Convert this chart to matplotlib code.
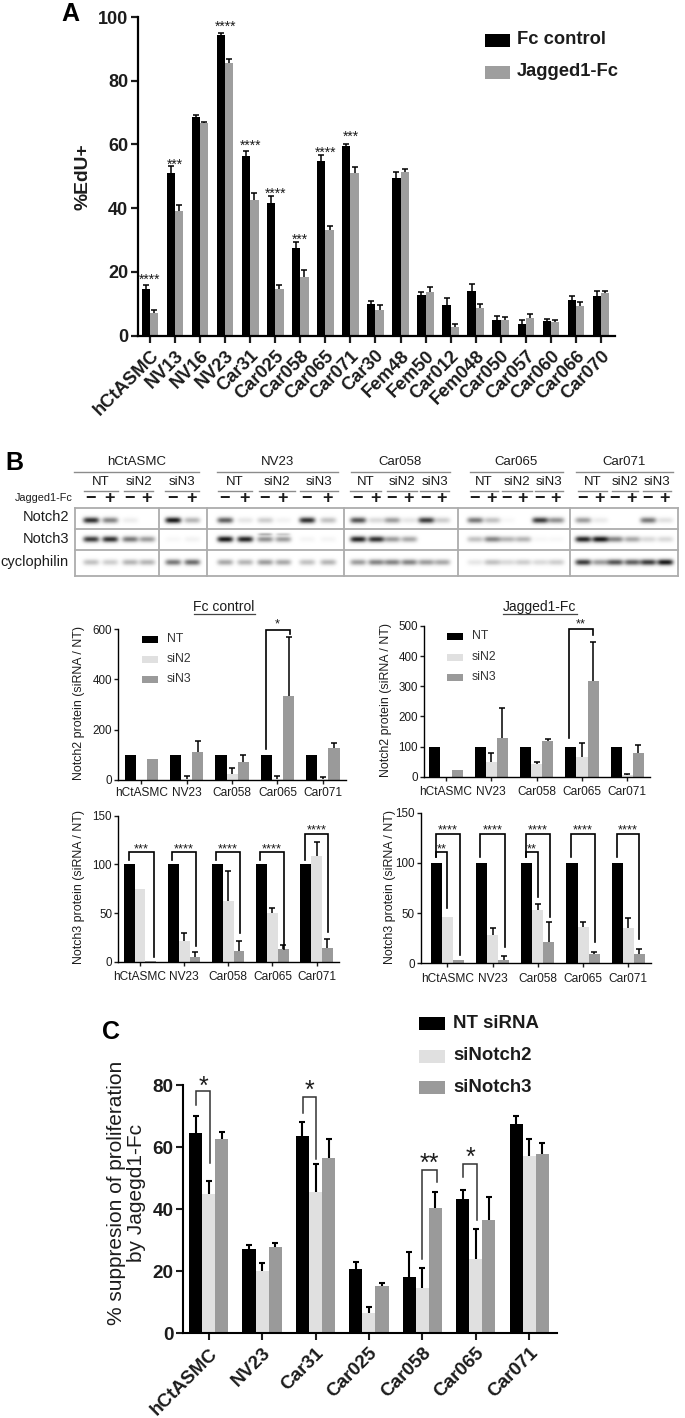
"""
	plot.py - proliferation bars, western blots and siRNA panels
"""

import numpy as np
import matplotlib
matplotlib.use("Agg")
import matplotlib.pyplot as plt

plt.rcParams["font.family"] = ["Liberation Sans", "DejaVu Sans"]

W, H = 685, 1418
DARK = "#1c1c1c"

# Panel A
cells_a = ["hCtASMC", "NV13", "NV16", "NV23", "Car31", "Car025", "Car058", "Car065", "Car071", "Car30",
           "Fem48", "Fem50", "Car012", "Fem048", "Car050", "Car057", "Car060", "Car066", "Car070"]
fc_control = [14.7, 51, 68.5, 94.5, 56.5, 41.7, 27.5, 54.8, 59.5, 10, 49.5, 12.7, 9.5, 14, 5, 3.5, 4.5, 11.2, 12.5]
fc_control_top = [15.8, 53.3, 69.3, 95, 58, 43.8, 29.3, 56.7, 60.2, 10.8, 51.2, 13.7, 11.7, 16.2, 6.2, 5, 5.3, 12.5, 13.9]
jagged = [7, 39, 66.7, 85.5, 42.5, 14.5, 18.5, 33.2, 51, 8, 51.2, 13.6, 2.7, 8.5, 4.9, 5.5, 4.2, 9.2, 13.3]
jagged_top = [8, 41, 67, 86.8, 44.7, 15.8, 20.5, 34.5, 52.8, 9.5, 52.2, 15.2, 3.5, 10, 5.8, 6.7, 4.8, 10.5, 13.9]
stars_a = [(0, "****", 18.4), (1, "***", 54.4), (3, "****", 97.8), (4, "****", 60.4), (5, "****", 45.3),
           (6, "***", 31), (7, "****", 58.2), (8, "***", 63.2)]

# Panel B bars
cells_b = ["hCtASMC", "NV23", "Car058", "Car065", "Car071"]
nt_b = [100, 100, 100, 100, 100]
fc_n2_sin2 = [0, 5, 25, 5, 4]
fc_n2_sin2_top = [0, 17, 47, 15, 10]
fc_n2_sin3 = [85, 112, 72, 335, 128]
fc_n2_sin3_top = [85, 155, 100, 570, 148]
fc_n3_sin2 = [74.5, 21, 62, 50, 109]
fc_n3_sin2_top = [74.5, 29, 93, 55, 123]
fc_n3_sin3 = [0.5, 4.5, 11, 13.5, 14.5]
fc_n3_sin3_top = [0.5, 9.5, 21.5, 17, 23]
jag_n2_sin2 = [0, 50, 42, 65, 5]
jag_n2_sin2_top = [0, 78, 50, 113, 10]
jag_n2_sin3 = [22, 128, 118, 318, 77]
jag_n2_sin3_top = [22, 227, 125, 446, 104]
jag_n3_sin2 = [46, 28, 53, 36, 35]
jag_n3_sin2_top = [46, 35, 59, 41, 45]
jag_n3_sin3 = [3, 3.5, 21, 9, 9]
jag_n3_sin3_top = [3, 7, 41, 11, 14]

# Panel C
cells_c = ["hCtASMC", "NV23", "Car31", "Car025", "Car058", "Car065", "Car071"]
nt_c = [64.5, 27, 63.5, 20.5, 18, 43.3, 67.5]
nt_c_top = [70, 28.5, 68, 23, 26, 46, 70]
sin2_c = [45, 20, 45.5, 6.5, 14.5, 24, 57]
sin2_c_top = [49, 22.5, 54.5, 8.5, 21, 33.5, 62.5]
sin3_c = [62.7, 27.8, 56.5, 15.3, 40.3, 36.3, 57.8]
sin3_c_top = [65, 29, 62.5, 16, 45.5, 44, 61.2]

# Blot band strength per lane, 0 = nothing, 1 = black
notch2_bands = [.85, .5, .07, 0, .95, .3, .65, .1, .2, .05, .85, .25, .7, .15, .4, .1, .8, .2,
                .55, .25, .03, 0, .8, .45, .4, .08, 0, 0, .55, .12]
notch3_bands = [.8, .85, .55, .4, .03, .05, .95, .9, .45, .4, .04, .04, .9, .85, .4, .35, 0, 0,
                .25, .5, .3, .3, .03, .03, .9, .95, .5, .35, .15, .15]
cyclo_bands = [.25, .2, .3, .3, .55, .6, .35, .3, .4, .35, .25, .3, .4, .5, .5, .5, .4, .35,
               .1, .25, .15, .2, .15, .2, .8, .4, .7, .65, .8, .95]
lane_x = [91, 110, 130, 147, 173, 192, 225, 245, 265, 283, 307, 328, 358, 376, 392, 409, 426, 442,
          475, 492, 507, 523, 540, 556, 583, 600, 615, 632, 648, 665]


def makeAxes(fig, left, top, right, bottom):
	ax = fig.add_axes([left/W, 1-bottom/H, (right-left)/W, (bottom-top)/H])
	ax.patch.set_visible(False)
	return ax


def styleAxes(ax, lw, ticklen, size, bold):
	ax.spines["top"].set_visible(False)
	ax.spines["right"].set_visible(False)
	ax.spines["left"].set_linewidth(lw)
	ax.spines["bottom"].set_linewidth(lw)
	ax.tick_params(width=lw, length=ticklen, labelsize=size, colors=DARK)
	if bold:
		for t in ax.get_xticklabels() + ax.get_yticklabels():
			t.set_fontweight("bold")


def bars(ax, x, values, tops, width, color, lw, cap):
	ax.bar(x, values, width, color=color, linewidth=0)
	values = np.array(values, dtype=float)
	tops = np.array(tops, dtype=float)
	keep = tops > values
	ax.vlines(x[keep], values[keep], tops[keep], color="black", lw=lw, zorder=3)
	ax.plot(x[keep], tops[keep], "_", color="black", ms=cap, mew=lw, zorder=3)


def bracket(ax, x, l, r, left_y, top_y, right_y, text, text_y, size, lw=1.2, color="black"):
	ax.plot([x+l, x+l, x+r, x+r], [left_y, top_y, top_y, right_y], color=color, lw=lw, clip_on=False,
		solid_joinstyle="miter", zorder=5)
	ax.annotate(text, (x+(l+r)/2, text_y), xytext=(0, -1), textcoords="offset points", ha="center", va="center",
		fontsize=size, color=DARK, annotation_clip=False)


def smallPanel(fig, box, xlim, ylim, yticks, sin2, sin2_top, sin3, sin3_top, ylabel, label_x, xpad=4):
	ax = makeAxes(fig, *box)
	x = np.arange(5)
	w = 0.245
	bars(ax, x-w, nt_b, nt_b, w, "black", 1.1, 4.5)
	bars(ax, x, sin2, sin2_top, w, "#e0e0e0", 1.1, 4.5)
	bars(ax, x+w, sin3, sin3_top, w, "#9a9a9a", 1.1, 4.5)
	ax.set_xlim(*xlim)
	ax.set_ylim(*ylim)
	ax.set_yticks(yticks)
	ax.set_xticks(x)
	ax.set_xticklabels(cells_b)
	styleAxes(ax, 1.0, 2.8, 8.6, False)
	ax.tick_params(axis="x", pad=xpad)
	ax.tick_params(axis="y", pad=1.5, labelsize=8.4)
	fig.text(label_x/W, 1-(box[1]+box[3])/2/H + 0.001, ylabel, rotation=90, ha="center", va="center",
		fontsize=8.9, color=DARK)
	return ax


def panelA(fig):
	ax = makeAxes(fig, 138, 17, 615, 335.5)
	x = np.arange(len(cells_a))
	w = 0.33
	bars(ax, x-w/2, fc_control, fc_control_top, w, "black", 1.1, 4)
	bars(ax, x+w/2, jagged, jagged_top, w, "#9e9e9e", 1.1, 4)
	ax.set_xlim(-0.48, 18.56)
	ax.set_ylim(0, 100)
	ax.set_yticks(range(0, 101, 20))
	ax.set_xticks(x)
	ax.set_xticklabels(cells_a, rotation=45, ha="right", rotation_mode="anchor")
	styleAxes(ax, 1.6, 5, 13.2, True)
	ax.tick_params(axis="y", labelsize=13, pad=2)
	for group, text, y in stars_a:
		ax.annotate(text, (group, y), xytext=(0, -2), textcoords="offset points", ha="center", va="center",
			fontsize=10, color=DARK, annotation_clip=False)
	fig.text(83/W, 1-177/H, "%EdU+", rotation=90, ha="center", va="center", fontsize=13.9, fontweight="bold", color=DARK)


def drawBlots(pix):
	rows = [(notch2_bands, 508, 528, 520), (notch3_bands, 530, 549, 539), (cyclo_bands, 551, 575, 562)]
	for bands, top, bottom, centre in rows:
		yy, xx = np.mgrid[top:bottom:0.5, 75:678:0.5]
		img = np.zeros(xx.shape)
		for lx, level in zip(lane_x, bands):
			img += level*np.exp(-((xx-lx)/8.0)**4)*np.exp(-((yy-centre)/3.0)**2)
		# doublet above the siN2 lanes of NV23
		if bands is notch3_bands:
			for lx, level in [(265, .3), (283, .2)]:
				img += level*np.exp(-((xx-lx)/7.0)**4)*np.exp(-((yy-centre+5)/1.3)**2)
		pix.imshow(img, cmap="gray_r", vmin=0, vmax=1.05, extent=[75, 678, bottom, top], aspect="auto",
			interpolation="bilinear", zorder=1)
	frame = "#adadad"
	for y in [507.5, 529, 550, 575.5]:
		pix.plot([75, 678], [y, y], color=frame, lw=1.3, zorder=2)
	for x in [75, 159, 207, 344, 458, 570, 678]:
		pix.plot([x, x], [507.5, 575.5], color=frame, lw=1.3, zorder=2)
	for y, text in [(517, "Notch2"), (539, "Notch3"), (562, "cyclophilin")]:
		pix.text(69, y, text, ha="right", va="center", fontsize=10.5, color=DARK)
	pix.text(73, 498, "Jagged1-Fc", ha="right", va="center", fontsize=7.8, color=DARK)

	groups = [("hCtASMC", 74, 199), ("NV23", 217, 338), ("Car058", 351, 450), ("Car065", 470, 563), ("Car071", 576, 673)]
	for text, a, b in groups:
		pix.text((a+b)/2, 462, text, ha="center", va="center", fontsize=9.5, color=DARK)
		pix.plot([a, b], [472, 472], color="#8c8c8c", lw=1.0)
	subs = [(84, 118), (124, 153), (165, 199), (218, 252), (259, 295), (300, 338), (350, 381), (387, 417), (420, 449),
		(470, 498), (502, 532), (535, 563), (578, 607), (612, 638), (643, 671)]
	for i, (a, b) in enumerate(subs):
		pix.text((a+b)/2, 482, ["NT", "siN2", "siN3"][i % 3], ha="center", va="center", fontsize=9.5, color=DARK)
		pix.plot([a, b], [491, 491], color="#8c8c8c", lw=1.0)
	for i, lx in enumerate(lane_x):
		pix.text(lx, 498, "+" if i % 2 else "\u2212", ha="center", va="center", fontsize=13, fontweight="bold", color=DARK)


def panelB(fig):
	ax = smallPanel(fig, (118, 629, 346, 780), (-0.515, 4.51), (0, 600), [0, 200, 400, 600],
		fc_n2_sin2, fc_n2_sin2_top, fc_n2_sin3, fc_n2_sin3_top, "Notch2 protein (siRNA / NT)", 79, 2)
	bracket(ax, 3, -.26, .265, 125, 598, 580, "*", 622, 9.3)

	ax = smallPanel(fig, (118, 815.7, 339, 961.7), (-0.5, 4.51), (0, 150), [0, 50, 100, 150],
		fc_n3_sin2, fc_n3_sin2_top, fc_n3_sin3, fc_n3_sin3_top, "Notch3 protein (siRNA / NT)", 79)
	bracket(ax, 0, -.25, .31, 105, 112.7, 5, "***", 117, 9.3)
	bracket(ax, 1, -.28, .26, 105, 112.7, 16, "****", 117, 9.3)
	bracket(ax, 2, -.27, .27, 105, 112.7, 29, "****", 117, 9.3)
	bracket(ax, 3, -.27, .26, 105, 112.7, 13, "****", 117, 9.3)
	bracket(ax, 4, -.25, .25, 104, 131, 31, "****", 136, 9.3)

	ax = smallPanel(fig, (424, 626, 650, 776.7), (-0.485, 4.5), (0, 500), [0, 100, 200, 300, 400, 500],
		jag_n2_sin2, jag_n2_sin2_top, jag_n2_sin3, jag_n2_sin3_top, "Notch2 protein (siRNA / NT)", 386)
	bracket(ax, 3, -.29, .245, 127, 490, 470, "**", 510, 9.3)

	ax = smallPanel(fig, (420.7, 812.7, 650.7, 963.3), (-0.59, 4.495), (0, 150), [0, 50, 100, 150],
		jag_n3_sin2, jag_n3_sin2_top, jag_n3_sin3, jag_n3_sin3_top, "Notch3 protein (siRNA / NT)", 390)
	bracket(ax, 0, -.25, .27, 105.6, 128.9, 8, "****", 134, 9.3)
	bracket(ax, 0, -.25, 0, 105.6, 111, 55, "**", 115, 9.3)
	bracket(ax, 1, -.27, .265, 105.6, 128.9, 16.6, "****", 134, 9.3)
	bracket(ax, 2, -.26, .26, 105.6, 128.9, 46.5, "****", 134, 9.3)
	bracket(ax, 2, -.26, .01, 105.6, 111, 66.4, "**", 115, 9.3)
	bracket(ax, 3, -.27, .26, 105.6, 128.9, 21.6, "****", 134, 9.3)
	bracket(ax, 4, -.26, .24, 105.6, 128.9, 24, "****", 134, 9.3)


def panelC(fig):
	ax = makeAxes(fig, 183, 1085, 557, 1333)
	x = np.arange(len(cells_c))
	w = 0.245
	bars(ax, x-w, nt_c, nt_c_top, w, "black", 1.5, 5)
	bars(ax, x, sin2_c, sin2_c_top, w, "#e0e0e0", 1.5, 5)
	bars(ax, x+w, sin3_c, sin3_c_top, w, "#9a9a9a", 1.5, 5)
	ax.set_xlim(-0.48, 6.52)
	ax.set_ylim(0, 80)
	ax.set_yticks(range(0, 81, 20))
	ax.set_xticks(x)
	ax.set_xticklabels(cells_c, rotation=45, ha="right", rotation_mode="anchor")
	styleAxes(ax, 1.5, 5, 13.6, True)
	ax.tick_params(axis="y", pad=2)
	bracket(ax, 0, -.23, .02, 73.5, 78, 55, "*", 80, 18, 1.1, "#333333")
	bracket(ax, 2, -.23, .01, 71, 76, 56, "*", 78.5, 18, 1.1, "#333333")
	bracket(ax, 4, 0, .27, 24, 52.5, 48.8, "**", 55, 18, 1.1, "#333333")
	bracket(ax, 5, -.24, .03, 50.4, 54.4, 36.5, "*", 57, 18, 1.1, "#333333")
	fig.text(117/W, 1-1193/H, "% suppresion of proliferation", rotation=90, ha="center", va="center", fontsize=15, color=DARK)
	fig.text(137/W, 1-1193/H, "by Jagegd1-Fc", rotation=90, ha="center", va="center", fontsize=15, color=DARK)


def main():
	fig = plt.figure(figsize=(W/100, H/100), dpi=100)
	pix = fig.add_axes([0, 0, 1, 1], zorder=-1)
	pix.set_xlim(0, W)
	pix.set_ylim(H, 0)
	pix.axis("off")

	panelA(fig)
	drawBlots(pix)
	panelB(fig)
	panelC(fig)
	pix.set_xlim(0, W)
	pix.set_ylim(H, 0)

	for text, x, y in [("A", 70, 14), ("B", 14, 463), ("C", 111, 1032)]:
		pix.text(x, y, text, ha="center", va="center", fontsize=18, fontweight="bold", color="black")

	# hand placed legends, same as in the figure
	for text, color, y in [("Fc control", "black", 40), ("Jagged1-Fc", "#9e9e9e", 72)]:
		pix.fill_between([485, 510], y-6.5, y+6.5, color=color, linewidth=0)
		pix.text(517, y, text, va="center", fontsize=13.2, fontweight="bold", color=DARK)
	for text, color, y in [("NT", "black", 639), ("siN2", "#e0e0e0", 659), ("siN3", "#9a9a9a", 679)]:
		pix.fill_between([142, 158], y-3.5, y+3.5, color=color, linewidth=0)
		pix.text(167, y, text, va="center", fontsize=8.8, color="#333333")
	for text, color, y in [("NT", "black", 636), ("siN2", "#e0e0e0", 657), ("siN3", "#9a9a9a", 677)]:
		pix.fill_between([447, 463], y-3.5, y+3.5, color=color, linewidth=0)
		pix.text(472, y, text, va="center", fontsize=8.8, color="#333333")
	for text, color, y in [("NT siRNA", "black", 1023), ("siNotch2", "#e0e0e0", 1056), ("siNotch3", "#9a9a9a", 1087)]:
		pix.fill_between([419, 445], y-6.5, y+6.5, color=color, linewidth=0)
		pix.text(453, y, text, va="center", fontsize=13.4, fontweight="bold", color=DARK)

	pix.text(224, 607, "Fc control", ha="center", va="center", fontsize=10, color=DARK)
	pix.plot([194, 255], [613.5, 613.5], color="#444444", lw=0.9)
	pix.text(539, 607, "Jagged1-Fc", ha="center", va="center", fontsize=10, color=DARK)
	pix.plot([503, 577], [614, 614], color="#444444", lw=0.9)

	fig.savefig("out.png", dpi=100)


if __name__ == "__main__":
	main()
